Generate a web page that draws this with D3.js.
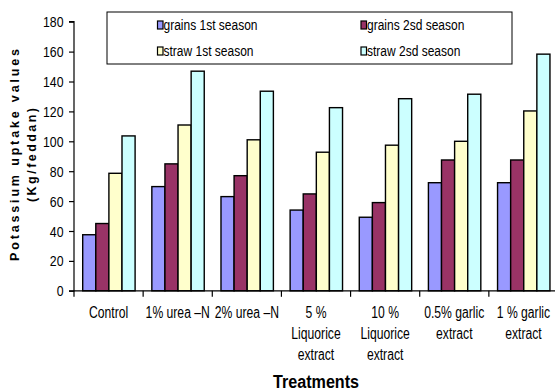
<!DOCTYPE html>
<html><head><meta charset="utf-8">
<script src="https://cdn.jsdelivr.net/npm/d3@7"></script>
<style>
body{margin:0;background:#fff;}
svg{display:block;}
text{font-family:"Liberation Sans",Arial,sans-serif;fill:#000;}
</style></head>
<body><svg id="c" width="555" height="391"></svg>
<script>
const categories = [
  ["Control"],
  ["1% urea \u2013N"],
  ["2% urea \u2013N"],
  ["5 %","Liquorice","extract"],
  ["10 %","Liquorice","extract"],
  ["0.5% garlic","extract"],
  ["1 %  garlic","extract"]
];
const seriesNames = ["grains 1st season","grains 2sd season","straw 1st season","straw 2sd season"];
const grains1 = [37.5, 69.7, 63, 54, 49.2, 72.3, 72.3];
const grains2 = [45, 84.9, 77, 64.8, 59, 87.5, 87.5];
const straw1  = [78.6, 110.9, 101, 92.7, 97.4, 100, 120.3];
const straw2  = [103.6, 146.9, 133.5, 122.5, 128.5, 131.5, 158.3];
const yTicks = [0,20,40,60,80,100,120,140,160,180];
const colors = ["#9999FF","#993366","#FFFFCC","#CCFFFF"];

const series = [grains1, grains2, straw1, straw2];
const svg = d3.select("#c");
const mLeft = 74, mRight = 558, mTop = 21.7, mBottom = 290.8;

// place text at (px,py) horizontally condensed by factor f
function cText(parent, px, py, f, anchor){
  return parent.append("text").attr("text-anchor", anchor || "start")
    .attr("transform", `translate(${px},${py}) scale(${f},1)`);
}

const x = d3.scaleBand().domain(d3.range(categories.length)).range([mLeft, mRight]).paddingInner(0).paddingOuter(0);
const xs = d3.scaleBand().domain(d3.range(4)).range([8.7, 8.7+52.4]);
const y = d3.scaleLinear().domain([0,180]).range([mBottom, mTop]);

// bars
const g = svg.append("g");
categories.forEach((c,i)=>{
  series.forEach((s,j)=>{
    g.append("rect")
      .attr("x", x(i)+xs(j))
      .attr("y", y(s[i]))
      .attr("width", xs.bandwidth())
      .attr("height", y(0)-y(s[i]))
      .attr("fill", colors[j])
      .attr("stroke","#000").attr("stroke-width",1.4);
  });
});

// y axis
const yAxis = d3.axisLeft(y).tickValues(yTicks).tickSize(5).tickPadding(5.5);
const ya = svg.append("g").attr("transform",`translate(${mLeft},0)`).call(yAxis);
ya.attr("font-family",null).attr("font-size",null);
ya.select(".domain").attr("stroke","#000").attr("stroke-width",1.2).attr("d",`M-5,${mBottom}H0V${mTop}H-5`);
ya.selectAll(".tick line").attr("stroke","#000").attr("stroke-width",1.2);
ya.selectAll(".tick text").attr("font-size",14).attr("fill","#000")
  .attr("x",0).attr("dy",null).attr("y",5)
  .attr("transform","translate(-10.5,0) scale(0.88,1)");

// x axis
const xa = svg.append("g");
xa.append("line").attr("x1",mLeft).attr("x2",555).attr("y1",mBottom).attr("y2",mBottom).attr("stroke","#000").attr("stroke-width",1.2);
d3.range(categories.length).forEach(i=>{
  xa.append("line").attr("x1",x(i)).attr("x2",x(i)).attr("y1",mBottom).attr("y2",mBottom+6).attr("stroke","#000").attr("stroke-width",1.2);
});
categories.forEach((c,i)=>{
  c.forEach((line,k)=>{
    cText(xa, x(i)+x.bandwidth()/2, 318+k*21, 0.76, "middle").attr("font-size",16).text(line);
  });
});

// axis titles
cText(svg, 316, 388, 0.85, "middle").attr("font-size",19).attr("font-weight","bold").text("Treatments");
svg.append("text").attr("font-size",12.5).attr("font-weight","bold")
  .attr("text-anchor","middle").attr("textLength",212).attr("lengthAdjust","spacing")
  .attr("transform","translate(19,155) rotate(-90)").text("Potassium uptake values");
svg.append("text").attr("font-size",12.5).attr("font-weight","bold")
  .attr("text-anchor","middle").attr("textLength",94).attr("lengthAdjust","spacing")
  .attr("transform","translate(36,155) rotate(-90)").text("(Kg/feddan)");

// legend
const lg = svg.append("g");
lg.append("rect").attr("x",107).attr("y",12).attr("width",405).attr("height",52).attr("fill","#fff").attr("stroke","#000").attr("stroke-width",1);
const lpos = [[157.5,25],[361,25],[157.5,51],[361,51]];
seriesNames.forEach((n,j)=>{
  const [lx,ly] = lpos[j];
  lg.append("rect").attr("x",lx).attr("y",ly-4).attr("width",5.5).attr("height",8).attr("fill",colors[j]).attr("stroke","#000").attr("stroke-width",1.2);
  cText(lg, lx+6, ly+5, 0.8).attr("font-size",15).text(n);
});
</script></body></html>
